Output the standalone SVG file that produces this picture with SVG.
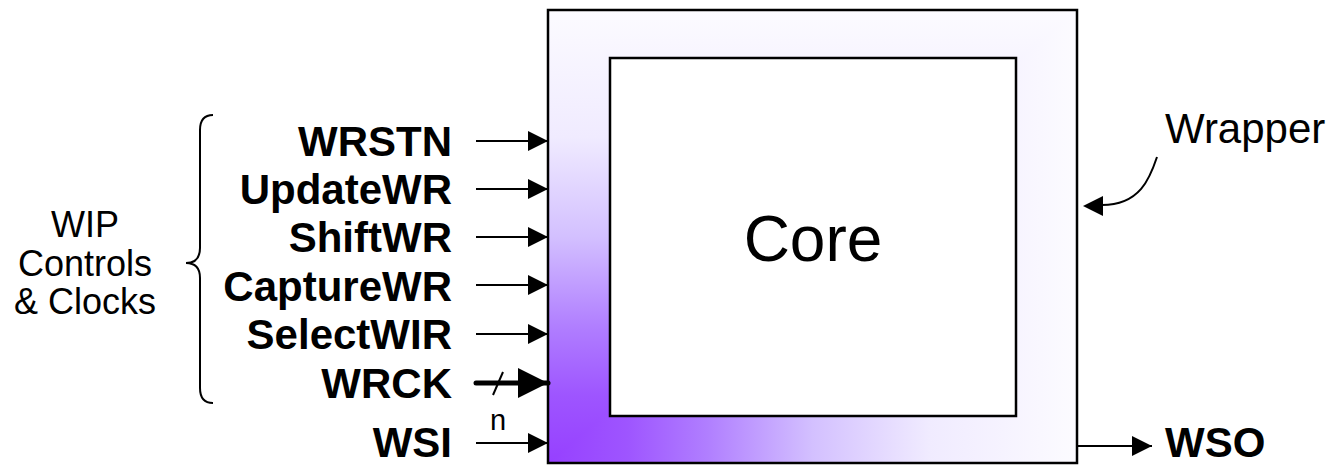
<svg xmlns="http://www.w3.org/2000/svg" width="1332" height="465" viewBox="0 0 1332 465">
<style>
.lbl{font-family:"Liberation Sans",Arial,sans-serif;font-weight:bold;font-size:42px;fill:#000}
.reg{font-family:"Liberation Sans",Arial,sans-serif;font-size:36px;fill:#000}
.ln{stroke:#000;stroke-width:2;fill:none}
</style>
<defs>
<linearGradient id="gv" gradientUnits="userSpaceOnUse" x1="0" y1="463" x2="0" y2="10">
<stop offset="0" stop-color="#9640ff"/>
<stop offset="0.15" stop-color="#9e55ff"/>
<stop offset="0.3" stop-color="#b07eff"/>
<stop offset="0.5" stop-color="#d3c0ff"/>
<stop offset="0.72" stop-color="#f0ebff"/>
<stop offset="1" stop-color="#fcfbff"/>
</linearGradient>
<linearGradient id="gh" gradientUnits="userSpaceOnUse" x1="548" y1="0" x2="1077" y2="0">
<stop offset="0" stop-color="#9640ff"/>
<stop offset="0.15" stop-color="#9e55ff"/>
<stop offset="0.3" stop-color="#b07eff"/>
<stop offset="0.5" stop-color="#d3c0ff"/>
<stop offset="0.72" stop-color="#f0ebff"/>
<stop offset="1" stop-color="#fcfbff"/>
</linearGradient>
<marker id="ah" viewBox="0 0 20 20" refX="20" refY="10" markerWidth="20" markerHeight="20" markerUnits="userSpaceOnUse" orient="auto">
<path d="M0,0 L20,10 L0,20 z" fill="#000"/>
</marker>
<marker id="ahb" viewBox="0 0 30 30" refX="30" refY="15" markerWidth="30" markerHeight="30" markerUnits="userSpaceOnUse" orient="auto">
<path d="M0,0 L30,15 L0,30 z" fill="#000"/>
</marker>
</defs>
<rect width="1332" height="465" fill="#fff"/>
<g id="wrapper">
<rect x="548" y="10" width="529" height="453" fill="url(#gv)"/>
<polygon points="548,463 1077,463 1077,10" fill="url(#gh)"/>
<rect x="548" y="10" width="529" height="453" fill="none" stroke="#000" stroke-width="2.5"/>
<text class="reg" x="1165" y="143" style="font-size:42px">Wrapper</text>
</g>
<g id="core">
<rect x="610" y="58" width="406" height="358" fill="#fff" stroke="#000" stroke-width="2.5"/>
<text x="813" y="261" text-anchor="middle" style="font-family:'Liberation Sans',Arial,sans-serif;font-size:64px">Core</text>
</g>
<g id="wip-group">
<path class="ln" d="M213,115 Q200,115 200,130 L200,248 Q200,263 186,263 Q200,263 200,278 L200,388 Q200,403 213,403"/>
<text class="reg" text-anchor="middle" x="85"><tspan x="85" y="237">WIP</tspan><tspan x="85" y="276">Controls</tspan><tspan x="85" y="314">&amp; Clocks</tspan></text>
</g>
<g id="signals">
<text class="lbl" x="452" y="156" text-anchor="end">WRSTN</text>
<text class="lbl" x="452" y="204" text-anchor="end">UpdateWR</text>
<text class="lbl" x="452" y="252" text-anchor="end">ShiftWR</text>
<text class="lbl" x="452" y="301" text-anchor="end">CaptureWR</text>
<text class="lbl" x="452" y="349" text-anchor="end">SelectWIR</text>
<text class="lbl" x="452" y="398" text-anchor="end">WRCK</text>
<text class="lbl" x="452" y="457" text-anchor="end">WSI</text>
<text class="lbl" x="1165" y="457">WSO</text>
<text class="reg" x="498" y="430" text-anchor="middle" style="font-size:29px">n</text>
</g>
<g id="connectors">
<line class="ln" x1="476" y1="141" x2="548" y2="141" marker-end="url(#ah)"/>
<line class="ln" x1="476" y1="189" x2="548" y2="189" marker-end="url(#ah)"/>
<line class="ln" x1="476" y1="237" x2="548" y2="237" marker-end="url(#ah)"/>
<line class="ln" x1="476" y1="285" x2="548" y2="285" marker-end="url(#ah)"/>
<line class="ln" x1="476" y1="334" x2="548" y2="334" marker-end="url(#ah)"/>
<line x1="476" y1="383" x2="548" y2="383" stroke="#000" stroke-width="5" stroke-linecap="round" marker-end="url(#ahb)"/>
<line class="ln" x1="493" y1="395" x2="503" y2="372"/>
<line class="ln" x1="476" y1="443" x2="548" y2="443" marker-end="url(#ah)"/>
<line class="ln" x1="1077" y1="446" x2="1152" y2="446" marker-end="url(#ah)"/>
<path class="ln" d="M1157,157 C1150,178 1140,205 1102,205 L1090,206" />
<path d="M1083,206 L1103,196 L1103,216 z" fill="#000"/>
</g>
</svg>
